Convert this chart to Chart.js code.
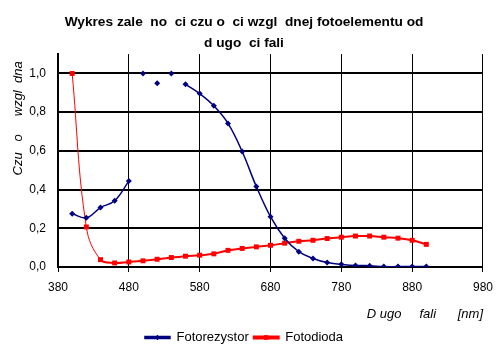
<!DOCTYPE html>
<html>
<head>
<meta charset="utf-8">
<script src="https://cdn.jsdelivr.net/npm/chart.js@4.4.1/dist/chart.umd.min.js"></script>
<style>
  html, body { margin: 0; padding: 0; background: #fff; }
</style>
</head>
<body>
<canvas id="chart" width="501" height="354"></canvas>
<script>
// dane
const titleLines = ["Wykres zale  no  ci czu o  ci wzgl  dnej fotoelementu od", "d ugo  ci fali"];
const yTitle = "Czu   o     wzgl  dna  ";
const xTitle = "D ugo     fali      [nm]";
const xTicks = [380, 480, 580, 680, 780, 880, 980];
const yTicks = [0, 0.2, 0.4, 0.6, 0.8, 1.0];

// Fotorezystor (null = przerwa w linii)
const rezystorX = [400, 420, 440, 460, 480, 490, 500, 510, 520, 530, 540, 550, 560, 580, 600, 620, 640, 660, 680, 700, 720, 740, 760, 780, 800, 820, 840, 860, 880, 900];
const rezystorY = [0.275, 0.254, 0.307, 0.342, 0.444, null, 1.0, null, 0.95, null, 1.0, null, 0.944, 0.896, 0.833, 0.742, 0.597, 0.416, 0.26, 0.149, 0.079, 0.044, 0.023, 0.014, 0.008, 0.007, 0.002, 0.002, 0.002, 0.002];

// Fotodioda
const diodaX = [400, 420, 440, 460, 480, 500, 520, 540, 560, 580, 600, 620, 640, 660, 680, 700, 720, 740, 760, 780, 800, 820, 840, 860, 880, 900];
const diodaY = [1.0, 0.207, 0.038, 0.021, 0.026, 0.032, 0.04, 0.049, 0.056, 0.061, 0.068, 0.086, 0.096, 0.104, 0.112, 0.123, 0.133, 0.138, 0.147, 0.154, 0.16, 0.16, 0.154, 0.149, 0.138, 0.117];

const FONT = "'Liberation Sans', Arial, sans-serif";
const NAVY = "#000080";
const RED = "#ff0000";

function toPoints(xs, ys) {
  return xs.map((x, i) => ({ x: x, y: ys[i] }));
}

// markery w legendzie (jak w Excelu: linia z punktem na srodku)
const legendMarkers = {
  id: "legendMarkers",
  afterDraw(chart) {
    const legend = chart.legend;
    if (!legend || !legend.legendHitBoxes) return;
    const ctx = chart.ctx;
    legend.legendHitBoxes.forEach((box, i) => {
      const ds = chart.data.datasets[i];
      const cx = box.left + legend.options.labels.boxWidth / 2;
      const cy = box.top + box.height / 2;
      ctx.save();
      ctx.fillStyle = ds.borderColor;
      Chart.helpers.drawPoint(ctx, { pointStyle: ds.pointStyle, radius: ds.pointRadius - 0.5, borderWidth: 0 }, cx, cy);
      ctx.fill();
      ctx.restore();
    });
  }
};

new Chart(document.getElementById("chart"), {
  type: "line",
  data: {
    datasets: [
      {
        label: "Fotorezystor",
        data: toPoints(rezystorX, rezystorY),
        borderColor: NAVY,
        backgroundColor: NAVY,
        borderWidth: 1.5,
        pointStyle: "rectRot",
        pointRadius: 3,
        pointBorderWidth: 0,
        tension: 0.4,
        spanGaps: false
      },
      {
        label: "Fotodioda",
        data: toPoints(diodaX, diodaY),
        borderColor: RED,
        backgroundColor: RED,
        borderWidth: 2,
        pointStyle: "rect",
        pointRadius: 3.5,
        pointBorderWidth: 0,
        tension: 0.4,
        segment: {
          borderWidth: ctx => ctx.p0.parsed.x < 440 ? 1 : 2
        }
      }
    ]
  },
  options: {
    responsive: false,
    animation: false,
    layout: { padding: { left: 0, right: 13, top: 0, bottom: 0 } },
    plugins: {
      title: {
        display: true,
        text: titleLines,
        color: "#000",
        font: { family: FONT, size: 13.7, weight: "bold", lineHeight: 1.5 },
        padding: { top: 12, bottom: 1 }
      },
      legend: {
        position: "bottom",
        labels: {
          color: "#000",
          font: { family: FONT, size: 13 },
          boxWidth: 25,
          boxHeight: 2,
          padding: 5
        }
      },
      tooltip: { enabled: false }
    },
    scales: {
      x: {
        type: "linear",
        min: 380,
        max: 980,
        afterBuildTicks: scale => { scale.ticks = xTicks.map(v => ({ value: v })); },
        afterFit: scale => { scale.height = 59; },
        border: { display: true, color: "#000", width: 2 },
        grid: {
          color: "#000",
          lineWidth: 1,
          borderDash: [4, 2],
          tickLength: 5,
          tickColor: "#000",
          tickBorderDash: []
        },
        ticks: {
          color: "#000",
          font: { family: FONT, size: 12 },
          padding: 8,
          maxRotation: 0
        },
        title: {
          display: true,
          text: xTitle,
          align: "end",
          color: "#000",
          font: { family: FONT, size: 13, style: "italic" },
          padding: { top: 0, bottom: 4 }
        }
      },
      y: {
        type: "linear",
        min: 0,
        max: 1.1,
        afterBuildTicks: scale => { scale.ticks = yTicks.map(v => ({ value: v })); },
        afterFit: scale => { scale.width = 58; },
        border: { display: true, color: "#000", width: 2 },
        grid: {
          color: "#000",
          lineWidth: 2,
          borderDash: [2, 2],
          drawTicks: false
        },
        ticks: {
          color: "#000",
          font: { family: FONT, size: 12 },
          padding: 12,
          callback: v => v.toFixed(1).replace(".", ",")
        },
        title: {
          display: true,
          text: yTitle,
          align: "end",
          color: "#000",
          font: { family: FONT, size: 13, style: "italic" },
          padding: { top: 11, bottom: 0 }
        }
      }
    }
  },
  plugins: [legendMarkers]
});
</script>
</body>
</html>
